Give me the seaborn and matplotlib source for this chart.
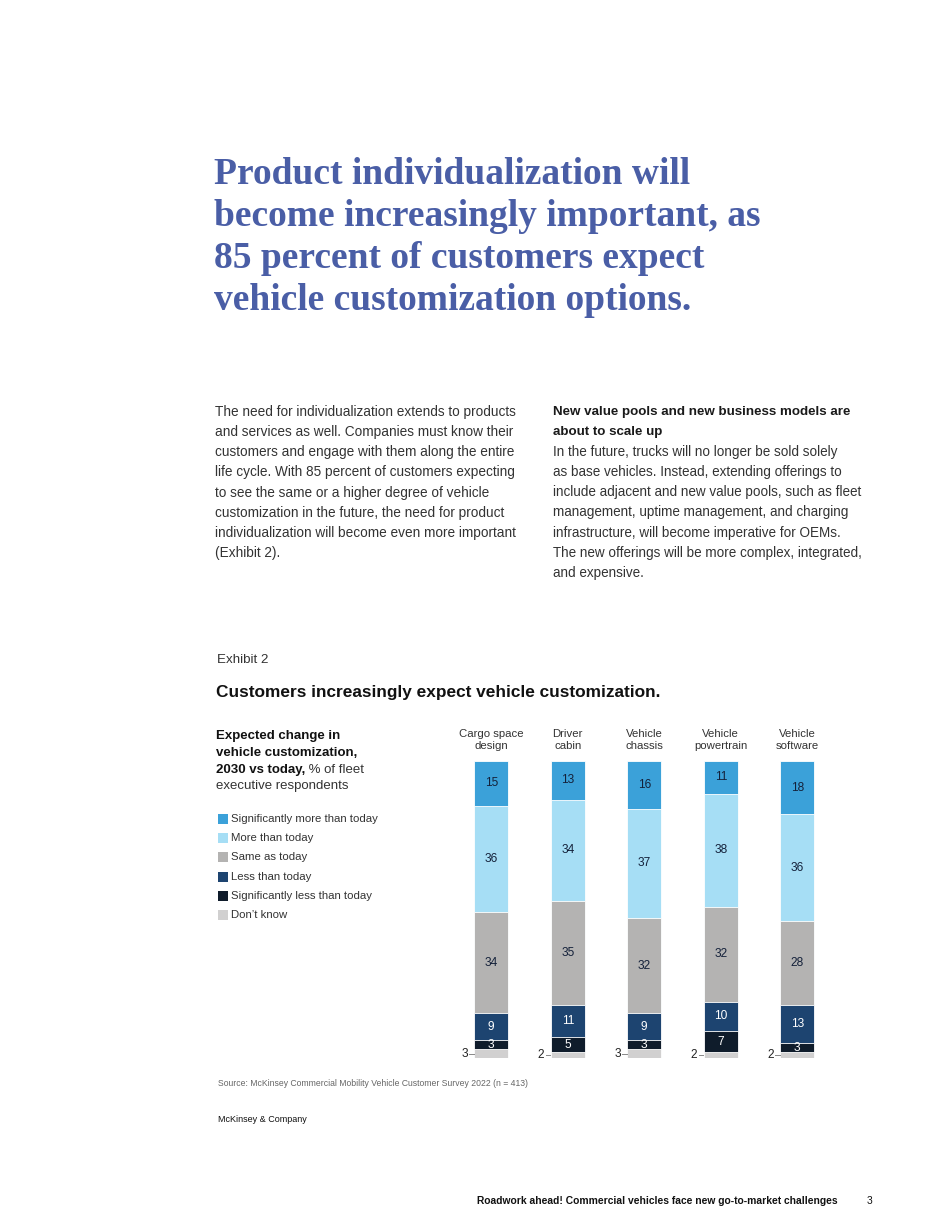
import matplotlib
matplotlib.use("Agg")
import matplotlib.pyplot as plt
import seaborn as sns
import pandas as pd
import numpy as np
from matplotlib.patches import Rectangle

# ---------------- data ----------------
categories = ["Cargo space\ndesign", "Driver\ncabin", "Vehicle\nchassis", "Vehicle\npowertrain", "Vehicle\nsoftware"]
levels = ["Significantly more than today", "More than today", "Same as today",
          "Less than today", "Significantly less than today", "Don\u2019t know"]
sig_more = [15, 13, 16, 11, 18]
more = [36, 34, 37, 38, 36]
same = [34, 35, 32, 32, 28]
less = [9, 11, 9, 10, 13]
sig_less = [3, 5, 3, 7, 3]
dont_know = [3, 2, 3, 2, 2]

colors = {
    "Significantly more than today": "#3ba1d9",
    "More than today": "#a6def5",
    "Same as today": "#b4b3b2",
    "Less than today": "#1d4470",
    "Significantly less than today": "#0f1c2b",
    "Don\u2019t know": "#d1d0d0",
}
text_col = {
    "Significantly more than today": "#14213a",
    "More than today": "#14213a",
    "Same as today": "#14213a",
    "Less than today": "white",
    "Significantly less than today": "white",
    "Don\u2019t know": "#222222",
}

values = {
    "Significantly more than today": sig_more,
    "More than today": more,
    "Same as today": same,
    "Less than today": less,
    "Significantly less than today": sig_less,
    "Don\u2019t know": dont_know,
}

# bottom-to-top stacking order
stack_order = levels[::-1]
df = pd.DataFrame({"category": categories})
cum = np.zeros(len(categories))
bottoms = {}
for lvl in stack_order:
    bottoms[lvl] = cum.copy()
    cum = cum + np.array(values[lvl])
    df[lvl + "_cum"] = cum

W, H = 950, 1230
fig = plt.figure(figsize=(9.5, 12.3), dpi=100)
fig.patch.set_facecolor("white")

SANS = ["Liberation Sans", "DejaVu Sans"]
SERIF = ["Liberation Serif", "DejaVu Serif"]

def fx(px):
    return px / W

def fy(py):
    return 1 - py / H

# ---------------- title ----------------
title_lines = ["Product individualization will",
               "become increasingly important, as",
               "85 percent of customers expect",
               "vehicle customization options."]
for i, line in enumerate(title_lines):
    fig.text(fx(214), fy(184 + 42 * i), line, family=SERIF, weight="bold",
             fontsize=27, color="#4a5ea6", va="baseline", ha="left")

# ---------------- body text ----------------
left_col = ["The need for individualization extends to products",
            "and services as well. Companies must know their",
            "customers and engage with them along the entire",
            "life cycle. With 85 percent of customers expecting",
            "to see the same or a higher degree of vehicle",
            "customization in the future, the need for product",
            "individualization will become even more important",
            "(Exhibit 2)."]
for i, line in enumerate(left_col):
    fig.text(fx(215), fy(412 + 20.15 * i), line, family=SANS, fontsize=9.85,
             color="#333333", va="center", ha="left")

right_bold = ["New value pools and new business models are", "about to scale up"]
right_col = ["In the future, trucks will no longer be sold solely",
             "as base vehicles. Instead, extending offerings to",
             "include adjacent and new value pools, such as fleet",
             "management, uptime management, and charging",
             "infrastructure, will become imperative for OEMs.",
             "The new offerings will be more complex, integrated,",
             "and expensive."]
for i, line in enumerate(right_bold):
    fig.text(fx(553), fy(412 + 20.15 * i), line, family=SANS, fontsize=9.65,
             weight="bold", color="#1a1a1a", va="center", ha="left")
for i, line in enumerate(right_col):
    fig.text(fx(553), fy(452 + 20.15 * i), line, family=SANS, fontsize=9.75,
             color="#333333", va="center", ha="left")

# ---------------- exhibit header ----------------
fig.text(fx(217), fy(660), "Exhibit 2", family=SANS, fontsize=9.6, color="#333333", va="center")
fig.text(fx(216), fy(692), "Customers increasingly expect vehicle customization.",
         family=SANS, fontsize=12.4, weight="bold", color="#111111", va="center")

# sub-header (left block)
hdr_bold = ["Expected change in", "vehicle customization,"]
for i, line in enumerate(hdr_bold):
    fig.text(fx(216), fy(736 + 17 * i), line, family=SANS, fontsize=9.5,
             weight="bold", color="#111111", va="center")
t3 = fig.text(fx(216), fy(770), "2030 vs today,", family=SANS, fontsize=9.5,
              weight="bold", color="#111111", va="center")
fig.canvas.draw()
bb = t3.get_window_extent()
fig.text(bb.x1 / W, fy(770), " % of fleet", family=SANS, fontsize=9.5,
         color="#333333", va="center")
fig.text(fx(216), fy(786), "executive respondents", family=SANS, fontsize=9.5,
         color="#333333", va="center")

# legend
for i, lvl in enumerate(levels):
    yc = 819 + 19.2 * i
    fig.patches.append(Rectangle((fx(218), fy(yc + 5)), 10 / W, 10 / H,
                                 transform=fig.transFigure, facecolor=colors[lvl],
                                 edgecolor="none"))
    fig.text(fx(231), fy(yc), lvl, family=SANS, fontsize=8.2, color="#333333", va="center")

# ---------------- chart ----------------
ax_left = 453 / W
ax_w = 382.5 / W
ax_bottom = fy(1058)
ax_h = 297 / H
ax = fig.add_axes([ax_left, ax_bottom, ax_w, ax_h])
bar_w = 0.44

for lvl in levels:  # draw tallest cumulative first, then overlay
    sns.barplot(data=df, x="category", y=lvl + "_cum", order=categories, color=colors[lvl],
                width=bar_w, saturation=1, edgecolor="white", linewidth=0.6, ax=ax,
                errorbar=None)

ax.set_xlim(-0.5, 4.5)
ax.set_ylim(0, 100)
ax.axis("off")

for j, cat in enumerate(categories):
    ax.text(j, 103.5, cat, ha="center", va="bottom", family=SANS, fontsize=8.2,
            color="#333333", linespacing=1.15, clip_on=False)
    for lvl in levels:
        v = values[lvl][j]
        yc = bottoms[lvl][j] + v / 2
        if lvl == "Don\u2019t know":
            x0 = j - bar_w / 2
            ax.plot([x0 - 0.065, x0 - 0.012], [yc, yc], color="#888888", lw=0.7,
                    clip_on=False)
            ax.text(x0 - 0.085, yc, str(v), ha="right", va="center", family=SANS,
                    fontsize=8.6, color="#222222", clip_on=False)
        else:
            ax.text(j, yc, str(v), ha="center", va="center", family=SANS, fontsize=8.6,
                    color=text_col[lvl], clip_on=False)

# ---------------- footer ----------------
fig.text(fx(218), fy(1083), "Source: McKinsey Commercial Mobility Vehicle Customer Survey 2022 (n = 413)",
         family=SANS, fontsize=6.25, color="#666666", va="center")
fig.text(fx(218), fy(1119), "McKinsey & Company", family=SANS, fontsize=6.5,
         color="#111111", va="center")
fig.text(fx(838), fy(1201), "Roadwork ahead! Commercial vehicles face new go-to-market challenges",
         family=SANS, fontsize=7.4, weight="bold", color="#111111", va="center", ha="right")
fig.text(fx(867), fy(1201), "3", family=SANS, fontsize=7.4, color="#111111", va="center")

fig.savefig("out.png", dpi=100, facecolor="white")
